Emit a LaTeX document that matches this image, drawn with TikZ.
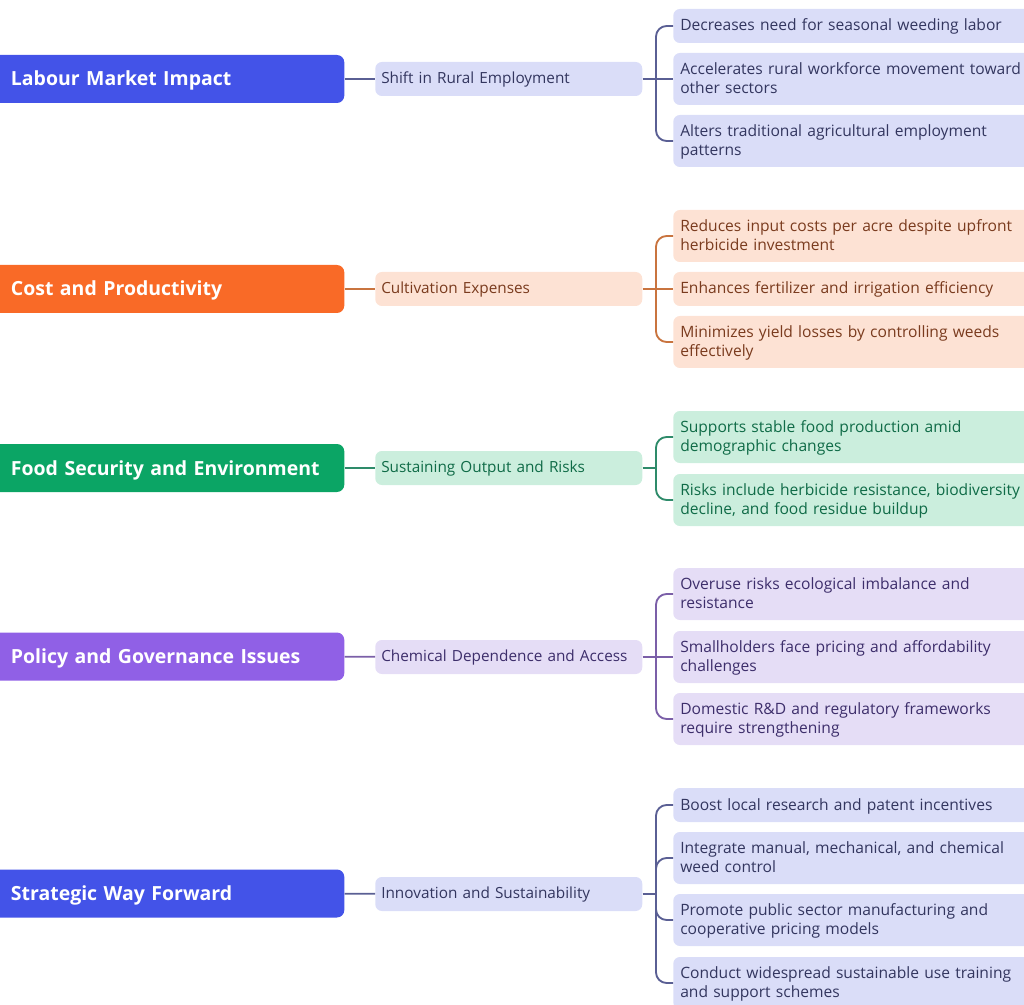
\documentclass[tikz,border=0pt]{standalone}
\usepackage{fontspec}
\setmainfont{Open Sans}
\usetikzlibrary{calc}
\definecolor{bluemain}{HTML}{4353E8}
\definecolor{bluesoft}{HTML}{DADDF8}
\definecolor{blueline}{HTML}{5A5F94}
\definecolor{bluetext}{HTML}{33365F}
\definecolor{orangemain}{HTML}{F96A27}
\definecolor{orangesoft}{HTML}{FDE2D4}
\definecolor{orangeline}{HTML}{C9743F}
\definecolor{orangetext}{HTML}{7A3B1E}
\definecolor{greenmain}{HTML}{0BA565}
\definecolor{greensoft}{HTML}{CBEEDD}
\definecolor{greenline}{HTML}{2E8B6A}
\definecolor{greentext}{HTML}{0F6B47}
\definecolor{purplemain}{HTML}{9060E6}
\definecolor{purplesoft}{HTML}{E5DDF6}
\definecolor{purpleline}{HTML}{7B5FA8}
\definecolor{purpletext}{HTML}{3D2E6B}
\tikzset{
	mainbox/.style={anchor=west,fill=#1main,text=white,rounded corners=5.5pt,minimum width=267pt,minimum height=36pt,inner xsep=17pt,inner ysep=0pt,text width=233pt,align=left,font=\fontsize{14.6}{18}\selectfont\bfseries,execute at begin node={\rule[-4pt]{0pt}{18.5pt}}},
	subbox/.style={anchor=west,fill=#1soft,text=#1text,rounded corners=5pt,minimum width=200.25pt,minimum height=25.5pt,inner xsep=4.5pt,inner ysep=0pt,text width=191.25pt,align=left,font=\fontsize{11.5}{14.6}\selectfont,execute at begin node={\rule[-3pt]{0pt}{13pt}}},
	leafbox/.style={anchor=west,fill=#1soft,text=#1text,rounded corners=5pt,minimum width=280pt,minimum height=25.5pt,inner xsep=5.25pt,inner ysep=0pt,text width=269.5pt,align=left,font=\fontsize{11.7}{14.6}\selectfont,execute at begin node={\rule[-3pt]{0pt}{13.5pt}},execute at end node={\rule[-3pt]{0pt}{0pt}}},
	tallbox/.style={leafbox=#1,minimum height=39pt},
	link/.style={draw=#1line,line width=1.4pt,rounded corners=8pt},
}
\begin{document}
\begin{tikzpicture}[x=0.75pt,y=-0.75pt]
	\path[use as bounding box,clip] (0,0) rectangle (1024,1005);
	% Labour
	\node[mainbox=blue] (labour) at (-12,79) {Labour Market Impact};
	\node[subbox=blue] (shift) at (375,79) {Shift in Rural Employment};
	\node[leafbox=blue] (seasonal) at (673,26) {Decreases need for seasonal weeding labor};
	\node[tallbox=blue] (workforce) at (673,79) {Accelerates rural workforce movement toward\\other sectors};
	\node[tallbox=blue] (patterns) at (673,141) {Alters traditional agricultural employment\\patterns};
	\coordinate (jlabour) at (656,79);
	\draw[link=blue] (labour) -- (shift);
	\draw[link=blue] (shift) -- (workforce);
	\draw[link=blue] (jlabour) |- (seasonal.west);
	\draw[link=blue] (jlabour) |- (patterns.west);
	% Cost
	\node[mainbox=orange] (cost) at (-12,289) {Cost and Productivity};
	\node[subbox=orange] (expenses) at (375,289) {Cultivation Expenses};
	\node[tallbox=orange] (input) at (673,236) {Reduces input costs per acre despite upfront\\herbicide investment};
	\node[leafbox=orange] (fertilizer) at (673,289) {Enhances fertilizer and irrigation efficiency};
	\node[tallbox=orange] (yield) at (673,342) {Minimizes yield losses by controlling weeds\\effectively};
	\coordinate (jcost) at (656,289);
	\draw[link=orange] (cost) -- (expenses);
	\draw[link=orange] (expenses) -- (fertilizer);
	\draw[link=orange] (jcost) |- (input.west);
	\draw[link=orange] (jcost) |- (yield.west);
	% Food
	\node[mainbox=green] (food) at (-12,468) {Food Security and Environment};
	\node[subbox=green] (output) at (375,468) {Sustaining Output and Risks};
	\node[tallbox=green] (stable) at (673,437) {Supports stable food production amid\\demographic changes};
	\node[tallbox=green] (risks) at (673,500) {Risks include herbicide resistance, biodiversity\\decline, and food residue buildup};
	\coordinate (jfood) at (656,468);
	\draw[link=green] (food) -- (output);
	\draw[link=green] (output) -- (jfood);
	\draw[link=green] (jfood) |- (stable.west);
	\draw[link=green] (jfood) |- (risks.west);
	% Policy
	\node[mainbox=purple] (policy) at (-12,656.5) {Policy and Governance Issues};
	\node[subbox=purple] (chemical) at (375,657) {Chemical Dependence and Access};
	\node[tallbox=purple] (overuse) at (673,594) {Overuse risks ecological imbalance and\\resistance};
	\node[tallbox=purple] (pricing) at (673,657) {Smallholders face pricing and affordability\\challenges};
	\node[tallbox=purple] (domestic) at (673,719) {Domestic R\&D and regulatory frameworks\\require strengthening};
	\coordinate (jpolicy) at (656,657);
	\draw[link=purple] (policy) -- (chemical);
	\draw[link=purple] (chemical) -- (pricing);
	\draw[link=purple] (jpolicy) |- (overuse.west);
	\draw[link=purple] (jpolicy) |- (domestic.west);
	% Strategic
	\node[mainbox=blue] (strategic) at (-12,893.5) {Strategic Way Forward};
	\node[subbox=blue] (innovation) at (375,894) {Innovation and Sustainability};
	\node[leafbox=blue] (boost) at (673,805) {Boost local research and patent incentives};
	\node[tallbox=blue] (integrate) at (673,858) {Integrate manual, mechanical, and chemical\\weed control};
	\node[tallbox=blue] (promote) at (673,920) {Promote public sector manufacturing and\\cooperative pricing models};
	\node[tallbox=blue] (conduct) at (673,983) {Conduct widespread sustainable use training\\and support schemes};
	\coordinate (jstrategic) at (656,894);
	\draw[link=blue] (strategic) -- (innovation);
	\draw[link=blue] (innovation) -- (jstrategic);
	\draw[link=blue] (jstrategic) |- (boost.west);
	\draw[link=blue] (jstrategic) |- (integrate.west);
	\draw[link=blue] (jstrategic) |- (promote.west);
	\draw[link=blue] (jstrategic) |- (conduct.west);
\end{tikzpicture}
\end{document}
